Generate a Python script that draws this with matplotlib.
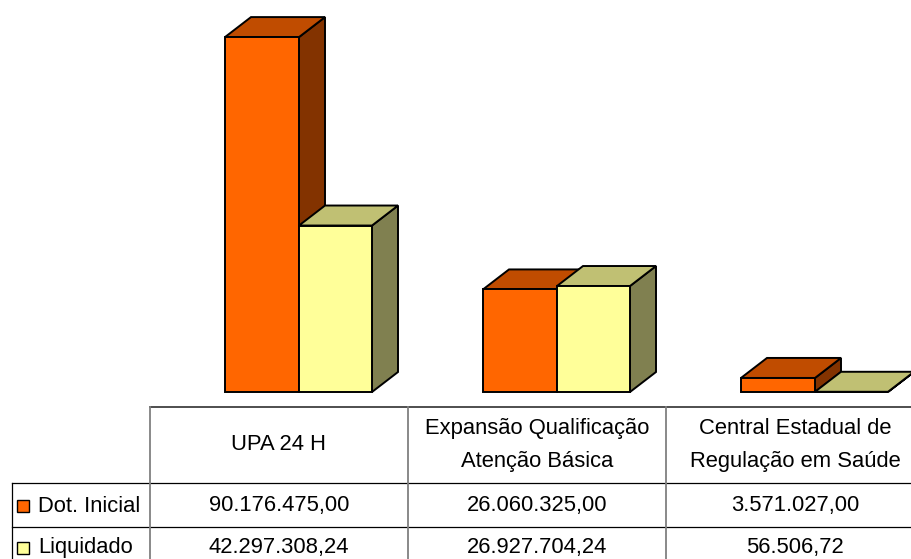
import matplotlib
matplotlib.use("Agg")
import matplotlib.pyplot as plt
from matplotlib.patches import Polygon, Rectangle

plt.rcParams['font.family'] = ['Liberation Sans', 'DejaVu Sans']

# ---- data ----
categories = ["UPA 24 H", "Expansão Qualificação\nAtenção Básica",
              "Central Estadual de\nRegulação em Saúde"]
series_names = ["Dot. Inicial", "Liquidado"]
dot_inicial = [90176475.00, 26060325.00, 3571027.00]
liquidado = [42297308.24, 26927704.24, 56506.72]

# ---- style ----
W, H = 912, 559
front_cols = ["#FF6600", "#FFFF99"]
top_cols = ["#C04C00", "#C0C073"]
side_cols = ["#833300", "#808050"]
ymax = 99.6e6

def fmt_br(v):
    s = f"{v:,.2f}"
    return s.replace(",", "X").replace(".", ",").replace("X", ".")

fig = plt.figure(figsize=(W / 100, H / 100), dpi=100)

# bar axes: x units = table cells (258 px each, first cell starting at px 150)
cell = 258.0
x_left_px = 150.0
base_px = 392.0
ax = fig.add_axes([0, (H - base_px) / H, 1, base_px / H])
ax.set_xlim(-x_left_px / cell, (W - x_left_px) / cell)
ax.set_ylim(0, ymax)
ax.axis("off")

bar_off = [75 / cell, 149 / cell]
bar_w = [74 / cell, 73 / cell]
dx = 26 / cell
dy = 20 / base_px * ymax
lw = 1.4

for i in range(len(categories)):
    for s, vals in enumerate([dot_inicial, liquidado]):
        v = vals[i]
        x0 = i + bar_off[s]
        w = bar_w[s]
        front = Rectangle((x0, 0), w, v, facecolor=front_cols[s], edgecolor="black",
                          linewidth=lw, joinstyle="miter", clip_on=False)
        top = Polygon([(x0, v), (x0 + dx, v + dy), (x0 + w + dx, v + dy), (x0 + w, v)],
                      closed=True, facecolor=top_cols[s], edgecolor="black",
                      linewidth=lw, joinstyle="miter", clip_on=False)
        side = Polygon([(x0 + w, 0), (x0 + w + dx, dy), (x0 + w + dx, v + dy), (x0 + w, v)],
                       closed=True, facecolor=side_cols[s], edgecolor="black",
                       linewidth=lw, joinstyle="miter", clip_on=False)
        ax.add_patch(side)
        ax.add_patch(top)
        ax.add_patch(front)

# ---- data table (pixel coordinates) ----
tb = fig.add_axes([0, 0, 1, 1])
tb.set_xlim(0, W)
tb.set_ylim(H, 0)
tb.axis("off")

y_top, y_r1, y_r2, y_bot = 407, 483, 527, 575
x_lab, x_c = 12, [150, 408, 666, 924]
gray = "#808080"
tb.plot([x_c[0], W], [y_top, y_top], color="#404040", lw=1.3)
for y in (y_r1, y_r2):
    tb.plot([x_lab, W], [y, y], color="black", lw=0.9)
tb.plot([x_lab, x_lab], [y_r1, y_bot], color="black", lw=0.9)
for x in x_c[:3]:
    tb.plot([x, x], [y_top, y_bot], color=gray, lw=1.3)

fs = 15.8
for i, cat in enumerate(categories):
    cx = (x_c[i] + x_c[i] + cell) / 2
    tb.text(cx, (y_top + y_r1) / 2, cat, ha="center", va="center", fontsize=fs,
            linespacing=1.72, color="black")
    tb.text(cx, (y_r1 + y_r2) / 2 + 1, fmt_br(dot_inicial[i]), ha="center", va="center",
            fontsize=fs, color="black")
    tb.text(cx, 548, fmt_br(liquidado[i]), ha="center", va="center",
            fontsize=fs, color="black")

row_y = [(y_r1 + y_r2) / 2 + 1, 548]
for s, name in enumerate(series_names):
    tb.add_patch(Rectangle((17, row_y[s] - 6), 12, 12, facecolor=front_cols[s],
                           edgecolor="black", lw=1.0))
    tb.text(38, row_y[s], name, ha="left", va="center", fontsize=fs, color="black")

fig.savefig("out.png", dpi=100)
